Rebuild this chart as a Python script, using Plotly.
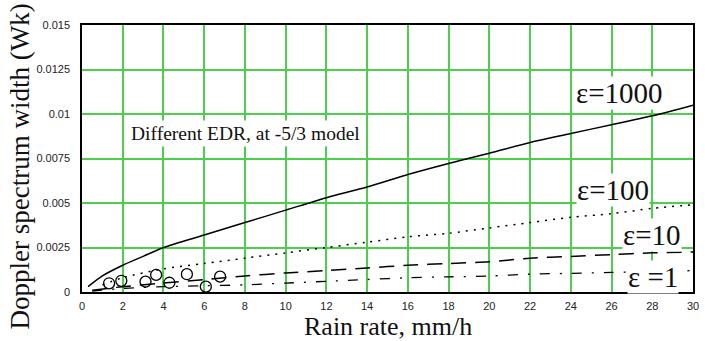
import plotly.graph_objects as go

# ---- data ----
x_e1000 = [0.3, 1, 2, 3, 4, 6, 8, 10, 12, 14, 16, 18, 20, 22, 24, 26, 28, 30]
y_e1000 = [0.0003, 0.0009, 0.0015, 0.002, 0.0025, 0.0032, 0.0039, 0.0046, 0.0053,
           0.0059, 0.0066, 0.00722, 0.0078, 0.0084, 0.0089, 0.0094, 0.0099, 0.0105]

x_e100 = [1, 2, 4, 6, 8, 10, 12, 14, 16, 18, 20, 22, 24, 26, 28, 30]
y_e100 = [0.0004, 0.0008, 0.0013, 0.0016, 0.0019, 0.0022, 0.0025, 0.0028,
          0.0031, 0.0033, 0.0036, 0.0039, 0.0042, 0.0044, 0.0047, 0.0049]

x_e10 = [0.5, 2, 4, 6, 8, 10, 12, 14, 16, 18, 20, 22, 24, 26, 28, 30]
y_e10 = [0.0001, 0.0003, 0.0005, 0.0007, 0.0009, 0.00107, 0.0012, 0.00135,
         0.0015, 0.0016, 0.0017, 0.0019, 0.002, 0.0021, 0.0022, 0.00225]

x_e1 = [0.5, 2, 4, 6, 8, 10, 12, 14, 16, 18, 20, 22, 24, 26, 28, 30]
y_e1 = [0.00005, 0.0002, 0.0003, 0.00035, 0.0004, 0.0005, 0.0006, 0.0007,
        0.0008, 0.00085, 0.0009, 0.001, 0.00105, 0.0011, 0.00115, 0.0012]

x_obs = [1.33, 1.93, 3.12, 3.64, 4.29, 5.15, 6.08, 6.78]
y_obs = [0.00049, 0.00063, 0.00058, 0.00096, 0.00052, 0.001, 0.0003, 0.00086]

x_ticks = list(range(0, 31, 2))
y_ticks = [0, 0.0025, 0.005, 0.0075, 0.01, 0.0125, 0.015]
y_tick_text = ["0", "0.0025", "0.005", "0.0075", "0.01", "0.0125", "0.015"]

labels = ["ε=1000", "ε=100", "ε=10", "ε =1"]
label_x = [26.4, 26.05, 28.0, 28.05]
label_y = [0.0112, 0.00573, 0.0032, 0.00084]

serif = "Liberation Serif, Times New Roman, serif"
sans = "Liberation Sans, Arial, sans-serif"

fig = go.Figure()
fig.add_trace(go.Scatter(x=x_e1000, y=y_e1000, mode="lines",
                         line=dict(color="black", width=1.5, shape="spline", smoothing=0.8)))
fig.add_trace(go.Scatter(x=x_e100, y=y_e100, mode="lines",
                         line=dict(color="black", width=1.5, dash="2px,6px", shape="spline", smoothing=0.8)))
fig.add_trace(go.Scatter(x=x_e10, y=y_e10, mode="lines",
                         line=dict(color="black", width=1.5, dash="15px,9px", shape="spline", smoothing=0.8)))
fig.add_trace(go.Scatter(x=x_e1, y=y_e1, mode="lines",
                         line=dict(color="black", width=1.3, dash="10px,10px,2px,10px", shape="spline", smoothing=0.8)))
fig.add_trace(go.Scatter(x=x_obs, y=y_obs, mode="markers",
                         marker=dict(symbol="circle-open", size=11, color="black",
                                     line=dict(width=1.3, color="black"))))

for t, lx, ly in zip(labels, label_x, label_y):
    fig.add_annotation(x=lx, y=ly, text=t, showarrow=False, xanchor="center", yanchor="middle",
                       font=dict(family=serif, size=29, color="#111"), bgcolor="white", borderpad=0)

fig.add_annotation(x=8.05, y=0.00888, text="Different EDR, at -5/3 model", showarrow=False,
                   xanchor="center", yanchor="middle", font=dict(family=serif, size=19.5, color="#111"),
                   bgcolor="white", borderpad=2)

fig.add_annotation(xref="paper", yref="paper", x=0, y=0.5, xshift=-63, yshift=-8,
                   text="Doppler spectrum width (Wk)", textangle=-90, showarrow=False,
                   xanchor="center", yanchor="middle", font=dict(family=serif, size=27, color="#111"))
fig.add_annotation(xref="paper", yref="paper", x=0.5, y=0, yshift=-34,
                   text="Rain rate, mm/h", showarrow=False,
                   xanchor="center", yanchor="middle", font=dict(family=serif, size=26, color="#111"))

fig.update_layout(
    width=705, height=341,
    margin=dict(l=82, r=6, t=25, b=49),
    paper_bgcolor="white", plot_bgcolor="white",
    showlegend=False,
)
fig.update_xaxes(range=[0, 30], tickvals=x_ticks, ticktext=[str(v) for v in x_ticks],
                 showgrid=True, gridcolor="#4ccf4c", gridwidth=1.5, zeroline=False,
                 showline=True, linecolor="black", linewidth=1.5, mirror=True,
                 ticks="", ticklabelstandoff=3,
                 tickfont=dict(family=sans, size=11, color="#222"))
fig.update_yaxes(range=[0, 0.015], tickvals=y_ticks, ticktext=y_tick_text,
                 showgrid=True, gridcolor="#4ccf4c", gridwidth=1.5, zeroline=False,
                 showline=True, linecolor="black", linewidth=1.5, mirror=True,
                 ticks="", ticklabelstandoff=8,
                 tickfont=dict(family=sans, size=11, color="#222"))

fig.write_html("out.html", config={"displayModeBar": False},
               post_script="document.body.style.margin='0';")
